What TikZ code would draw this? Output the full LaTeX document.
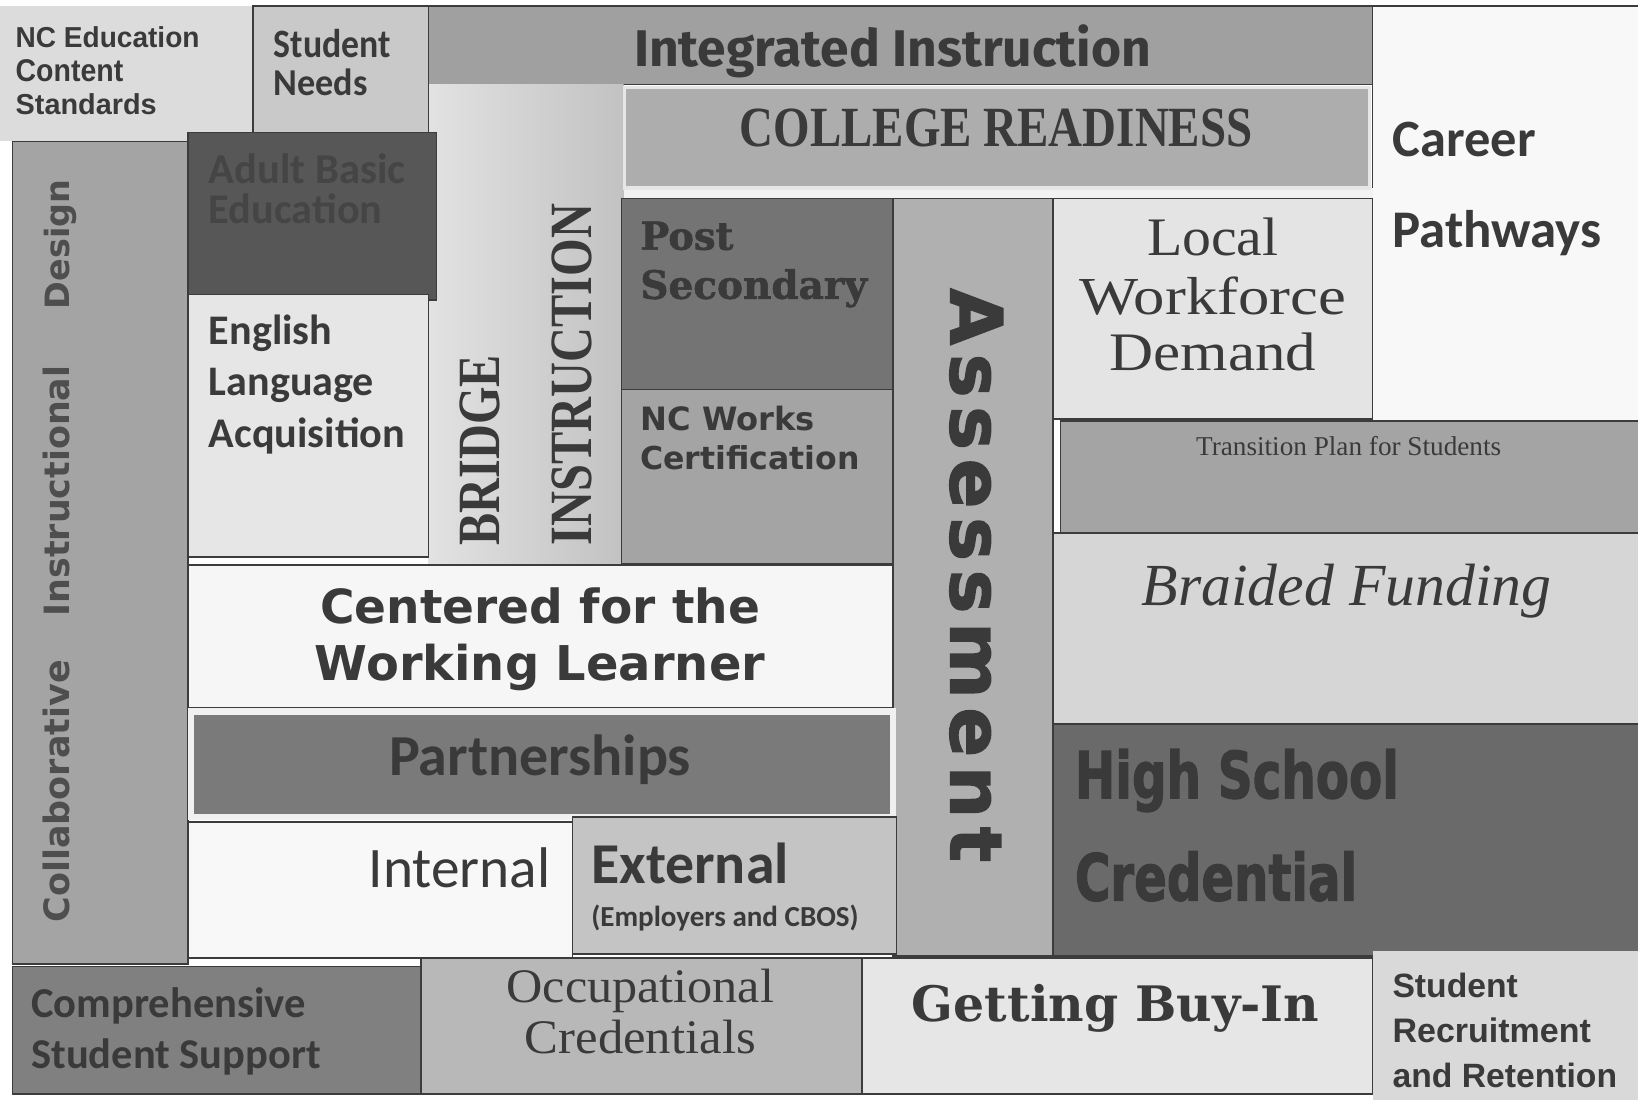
\documentclass[tikz,border=0pt]{standalone}
\usepackage{graphicx}
\usepackage{fontspec}
\setmainfont{Carlito}
\newfontfamily\libsans{Liberation Sans}
\newfontfamily\libserif{Liberation Serif}
\newfontfamily\firasans{Fira Sans}
\newfontfamily\djsans{DejaVu Sans}
\newfontfamily\djheavy[FakeBold=2]{DejaVu Sans}
\newfontfamily\djserif{DejaVu Serif}
\newfontfamily\djserifheavy[FakeBold=1.5]{DejaVu Serif}
\definecolor{ink}{HTML}{3A3A3A}
\definecolor{edge}{HTML}{3C3C3C}
\definecolor{cA4}{HTML}{A4A4A4}
\definecolor{cF8}{HTML}{F8F8F8}
\definecolor{cA0}{HTML}{A0A0A0}
\definecolor{cE2}{HTML}{E2E2E2}
\definecolor{cF0}{HTML}{F0F0F0}
\definecolor{cC2}{HTML}{C2C2C2}
\definecolor{cF2}{HTML}{F2F2F2}
\definecolor{cAD}{HTML}{ADADAD}
\definecolor{cE6}{HTML}{E6E6E6}
\definecolor{c74}{HTML}{747474}
\definecolor{cB0}{HTML}{B0B0B0}
\definecolor{cE4}{HTML}{E4E4E4}
\definecolor{cD6}{HTML}{D6D6D6}
\definecolor{c6A}{HTML}{6A6A6A}
\definecolor{cDC}{HTML}{DCDCDC}
\definecolor{cC9}{HTML}{C9C9C9}
\definecolor{c57}{HTML}{575757}
\definecolor{cF6}{HTML}{F6F6F6}
\definecolor{c7A}{HTML}{7A7A7A}
\definecolor{cC4}{HTML}{C4C4C4}
\definecolor{c80}{HTML}{808080}
\definecolor{cB8}{HTML}{B8B8B8}
\definecolor{cD9}{HTML}{D9D9D9}
\definecolor{c4E}{HTML}{4E4E4E}
\definecolor{c45}{HTML}{454545}
\newcommand\fw[2]{\resizebox{#1pt}{!}{#2}}
\newcommand\fwh[3]{\resizebox{#1pt}{#2pt}{#3}}
\newcommand\mybox[6]{\node[bx,fill=#6,minimum width=#4pt-#2pt,minimum height=#5pt-#3pt] (#1) at (#2,#3) {};}
\tikzset{
  bx/.style={draw=edge, line width=1.5pt, inner sep=0pt, outer sep=0pt, anchor=north west},
  tx/.style={text=ink, inner sep=0pt, outer sep=0pt, anchor=base west},
  txc/.style={text=ink, inner sep=0pt, outer sep=0pt, anchor=base},
}
\begin{document}
\begin{tikzpicture}[x=1pt,y=-1pt]
\useasboundingbox (0,0) rectangle (1568,1053);
\fill[white] (0,0) rectangle (1568,1053);
% boxes
\mybox{collab}{12}{135}{180}{923}{cA4}
\mybox{career}{1314}{6}{1575}{403}{cF8}
\mybox{integ}{410}{6}{1314}{81}{cA0}
\node[inner sep=0pt, outer sep=0pt, anchor=north west, minimum width=187pt, minimum height=459pt,
  left color=cE2, middle color=cF0, right color=cC2] (bridge) at (410,81) {};
\node[anchor=north west, inner sep=0pt, outer sep=0pt, fill=cF2, minimum width=717pt, minimum height=10pt] (strip) at (597,180) {};
\node[anchor=north west, inner sep=0pt, outer sep=0pt, fill=cAD, draw=cE6, line width=3pt, minimum width=713pt, minimum height=96pt] (college) at (598,84) {};
\mybox{post}{595}{190}{855}{373}{c74}
\mybox{ncworks}{595}{373}{855}{540}{cA4}
\mybox{assess}{855}{190}{1008}{915}{cB0}
\mybox{local}{1008}{190}{1314}{401}{cE4}
\mybox{trans}{1015}{403}{1575}{510}{cA4}
\mybox{braided}{1008}{510}{1575}{693}{cD6}
\mybox{hs}{1008}{693}{1575}{915}{c6A}
\node[anchor=north west, inner sep=0pt, outer sep=0pt, fill=cDC, minimum width=242pt, minimum height=129pt] (ncedu) at (0,6) {};
\mybox{needs}{242}{6}{410}{127}{cC9}
\mybox{adult}{180}{127}{418}{287}{c57}
\mybox{english}{180}{282}{410}{533}{cE6}
\mybox{centered}{180}{541}{855}{678}{cF6}
\node[anchor=north west, inner sep=0pt, outer sep=0pt, fill=c7A, draw=cF0, line width=6pt, minimum width=672pt, minimum height=101pt] (partner) at (183,681) {};
\mybox{internal}{180}{787}{548}{917}{cF8}
\mybox{external}{548}{782}{858}{913}{cC4}
\mybox{compre}{12}{925}{403}{1047}{c80}
\mybox{occup}{403}{917}{825}{1047}{cB8}
\mybox{buyin}{825}{917}{1314}{1047}{cE6}
\node[anchor=north west, inner sep=0pt, outer sep=0pt, fill=cD9, minimum width=254pt, minimum height=143pt] (recruit) at (1314,910) {};
% texts
\node[tx] (t-nc1) at (15,45) {\fwh{176}{20}{\libsans\bfseries NC Education}};
\node[tx] (t-nc2) at (15,78) {\fwh{103}{21}{\libsans\bfseries Content}};
\node[tx] (t-nc3) at (15,110) {\fwh{135}{20}{\libsans\bfseries Standards}};
\node[tx] (t-sn1) at (262,55) {\fwh{112}{27}{\bfseries Student}};
\node[tx] (t-sn2) at (262,91) {\fwh{90}{25.5}{\bfseries Needs}};
\node[tx] (t-ii) at (607,64) {\fw{495}{\firasans\bfseries Integrated Instruction}};
\node[tx] (t-cr) at (708,140) {\fwh{491}{36}{\libserif\bfseries COLLEGE READINESS}};
\node[tx] (t-cp1) at (1333,150) {\fw{137}{\bfseries Career}};
\node[tx] (t-cp2) at (1333,237) {\fw{200}{\bfseries Pathways}};
\node[tx, text=c4E, rotate=90] (t-co1) at (67,883) {\fw{251}{\djsans\bfseries Collaborative}};
\node[tx, text=c4E, rotate=90] (t-co2) at (67,590) {\fw{240}{\djsans\bfseries Instructional}};
\node[tx, text=c4E, rotate=90] (t-co3) at (67,296) {\fw{124}{\djsans\bfseries Design}};
\node[tx, text=c45] (t-ab1) at (200,176) {\fw{188}{\bfseries Adult Basic}};
\node[tx, text=c45] (t-ab2) at (200,214) {\fw{166}{\bfseries Education}};
\node[tx] (t-en1) at (200,330) {\fw{118}{\bfseries English}};
\node[tx] (t-en2) at (200,379) {\fw{158}{\bfseries Language}};
\node[tx] (t-en3) at (200,428) {\fw{188}{\bfseries Acquisition}};
\node[tx, rotate=90] (t-br1) at (478,522) {\fwh{182}{38}{\libserif\bfseries BRIDGE}};
\node[tx, rotate=90] (t-br2) at (566,522) {\fwh{327}{38}{\libserif\bfseries INSTRUCTION}};
\node[tx] (t-ps1) at (613,239) {\fw{89}{\djserifheavy\bfseries Post}};
\node[tx] (t-ps2) at (613,286) {\fw{217}{\djserifheavy\bfseries Secondary}};
\node[tx] (t-nw1) at (613,412) {\fw{167}{\djsans\bfseries NC Works}};
\node[tx] (t-nw2) at (613,449) {\fw{210}{\djsans\bfseries Certification}};
\node[tx, rotate=-90] (t-as) at (910,276) {\fwh{549}{50}{\djheavy\bfseries A\kern.12em s\kern.12em s\kern.12em e\kern.12em s\kern.12em s\kern.12em m\kern.12em e\kern.12em n\kern.12em t}};
\node[txc] (t-lw1) at (1161,245) {\fwh{126}{36}{\libserif Local}};
\node[txc] (t-lw2) at (1161,301) {\fwh{255}{36}{\libserif Workforce}};
\node[txc] (t-lw3) at (1161,355) {\fwh{198}{36}{\libserif Demand}};
\node[txc] (t-tp) at (1291,436) {\fw{292}{\libserif Transition Plan for Students}};
\node[txc] (t-bf) at (1289,580) {\fw{392}{\libserif\itshape Braided Funding}};
\node[tx] (t-hs1) at (1029,764) {\fwh{310}{47}{\djheavy\bfseries High School}};
\node[tx] (t-hs2) at (1029,862) {\fwh{270}{47}{\djheavy\bfseries Credential}};
\node[txc] (t-ce1) at (517,597) {\fw{421}{\djsans\bfseries Centered for the}};
\node[txc] (t-ce2) at (517,651) {\fw{431}{\djsans\bfseries Working Learner}};
\node[txc] (t-pa) at (517,742) {\fw{289}{\bfseries Partnerships}};
\node[tx] (t-in) at (353,850) {\fw{174}{Internal}};
\node[tx] (t-ex1) at (566,846) {\fw{189}{\bfseries External}};
\node[tx] (t-ex2) at (566,887) {\fw{256}{\bfseries (Employers and CBOS)}};
\node[tx] (t-cs1) at (30,974) {\fw{263}{\bfseries Comprehensive}};
\node[tx] (t-cs2) at (30,1023) {\fw{277}{\bfseries Student Support}};
\node[txc] (t-oc1) at (613,960) {\fwh{256}{32}{\libserif Occupational}};
\node[txc] (t-oc2) at (613,1008) {\fwh{221}{32}{\libserif Credentials}};
\node[txc] (t-gb) at (1068,978) {\fw{390}{\djserif\bfseries Getting Buy-In}};
\node[tx] (t-sr1) at (1333,955) {\fw{120}{\libsans\bfseries Student}};
\node[tx] (t-sr2) at (1333,998) {\fw{190}{\libsans\bfseries Recruitment}};
\node[tx] (t-sr3) at (1333,1041) {\fw{215}{\libsans\bfseries and Retention}};
\end{tikzpicture}
\end{document}
